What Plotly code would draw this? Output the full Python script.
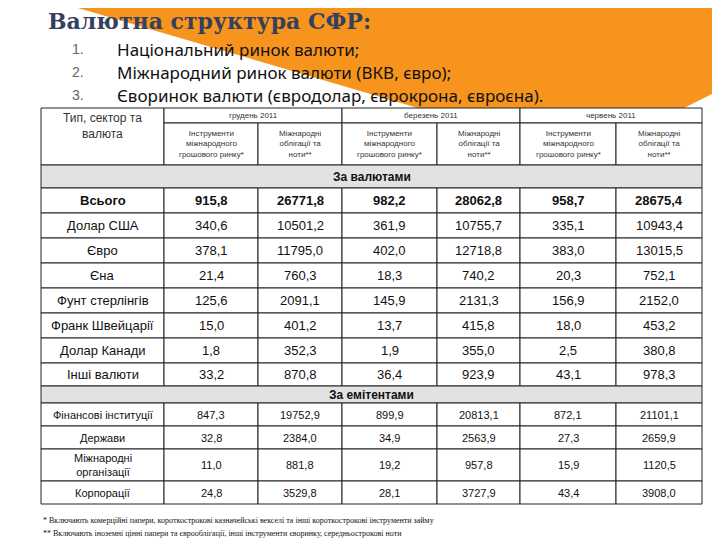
import plotly.graph_objects as go

title = "Валютна структура СФР:"
bullets = ["Національний ринок валюти;",
           "Міжнародний ринок валюти (ВКВ, євро);",
           "Єворинок валюти (євродолар, єврокрона, євроєна)."]

periods = ["грудень 2011", "березень 2011", "червень 2011"]
sub_cols = ["Інструменти<br>міжнародного<br>грошового ринку*", "Міжнародні<br>облігації та<br>ноти**"]
corner = "Тип, сектор та<br>валюта"

sec_currency = "За валютами"
currencies = ["Всього", "Долар США", "Євро", "Єна", "Фунт стерлінгів",
              "Франк Швейцарії", "Долар Канади", "Інші валюти"]
currency_vals = [
    ["915,8", "26771,8", "982,2", "28062,8", "958,7", "28675,4"],
    ["340,6", "10501,2", "361,9", "10755,7", "335,1", "10943,4"],
    ["378,1", "11795,0", "402,0", "12718,8", "383,0", "13015,5"],
    ["21,4", "760,3", "18,3", "740,2", "20,3", "752,1"],
    ["125,6", "2091,1", "145,9", "2131,3", "156,9", "2152,0"],
    ["15,0", "401,2", "13,7", "415,8", "18,0", "453,2"],
    ["1,8", "352,3", "1,9", "355,0", "2,5", "380,8"],
    ["33,2", "870,8", "36,4", "923,9", "43,1", "978,3"],
]

sec_issuer = "За емітентами"
issuers = ["Фінансові інституції", "Держави", "Міжнародні<br>організації", "Корпорації"]
issuer_vals = [
    ["847,3", "19752,9", "899,9", "20813,1", "872,1", "21101,1"],
    ["32,8", "2384,0", "34,9", "2563,9", "27,3", "2659,9"],
    ["11,0", "881,8", "19,2", "957,8", "15,9", "1120,5"],
    ["24,8", "3529,8", "28,1", "3727,9", "43,4", "3908,0"],
]

notes = ["* Включають комерційні папери, короткострокові казначейські векселі та інші короткострокові інструменти займу",
         "** Включають іноземні цінні папери та єврооблігації, інші інструменти єворинку, середньострокові ноти"]

# geometry in pixels
cx = [33, 156, 250, 334, 429, 512, 608, 694]
cur_rows = [180, 205, 230, 255, 280, 305, 330, 355, 378]
iss_rows = [395, 418, 441, 473, 496]
FONT = "Liberation Sans, Arial"
LINE = dict(color="#222", width=1)

fig = go.Figure()
shapes, ann = [], []

# orange decoration
shapes.append(dict(type="path", path="M 70 0 L 410 100 L 560 158 L 720 78 L 720 0 Z",
                   fillcolor="#f7941d", line=dict(width=0), layer="below"))

def txt(x, y, s, size=11, color="#111", bold=False, xanchor="center", font=FONT, yanchor="middle"):
    ann.append(dict(x=x, y=y, text=f"<b>{s}</b>" if bold else s, showarrow=False,
                    xanchor=xanchor, yanchor=yanchor,
                    font=dict(size=size, color=color, family=font)))

def rect(x0, y0, x1, y1, fill="white"):
    shapes.append(dict(type="rect", x0=x0, y0=y0, x1=x1, y1=y1, fillcolor=fill, line=LINE))

txt(38, 13, title, size=22, color="#34405e", xanchor="left", font="DejaVu Serif, serif", bold=True)
for i, b in enumerate(bullets):
    y = 41 + i * 23
    txt(62, y, f"{i+1}.", size=14, color="#666", xanchor="left")
    txt(107, y, b, size=17, color="#111", xanchor="left", font="Noto Sans, sans-serif")

# header
rect(cx[0], 100, cx[1], 157)
txt((cx[0] + cx[1]) / 2, 101, corner, size=12, color="#333", yanchor="top")
for p in range(3):
    a, b, c = cx[1 + 2 * p], cx[2 + 2 * p], cx[3 + 2 * p]
    rect(a, 100, c, 115)
    txt((a + c) / 2, 107, periods[p], size=8, color="#333")
    rect(a, 115, b, 157)
    rect(b, 115, c, 157)
    txt((a + b) / 2, 136, sub_cols[0], size=8, color="#333")
    txt((b + c) / 2, 136, sub_cols[1], size=8, color="#333")

def section(y0, y1, label):
    rect(cx[0], y0, cx[-1], y1, fill="#e2e2e2")
    txt((cx[0] + cx[-1]) / 2, (y0 + y1) / 2, label, size=12, bold=True)

def body(rows, names, vals, size, bold_first=False):
    for r, name in enumerate(names):
        y0, y1 = rows[r], rows[r + 1]
        ym = (y0 + y1) / 2
        bold = bold_first and r == 0
        for c in range(7):
            rect(cx[c], y0, cx[c + 1], y1)
        txt((cx[0] + cx[1]) / 2, ym, name, size=size, bold=bold)
        for c, v in enumerate(vals[r]):
            txt((cx[c + 1] + cx[c + 2]) / 2, ym, v, size=size, bold=bold)

section(157, 180, sec_currency)
body(cur_rows, currencies, currency_vals, 13, bold_first=True)
section(378, 395, sec_issuer)
body(iss_rows, issuers, issuer_vals, 11)

txt(33, 512, notes[0], size=8, xanchor="left", font="Liberation Serif, serif")
txt(33, 525, notes[1], size=8, xanchor="left", font="Liberation Serif, serif")

fig.update_layout(width=720, height=540, margin=dict(l=0, r=0, t=0, b=0),
                  plot_bgcolor="white", paper_bgcolor="white",
                  shapes=shapes, annotations=ann, showlegend=False,
                  xaxis=dict(range=[0, 720], visible=False, fixedrange=True),
                  yaxis=dict(range=[540, 0], visible=False, fixedrange=True))
fig.write_html("out.html")
